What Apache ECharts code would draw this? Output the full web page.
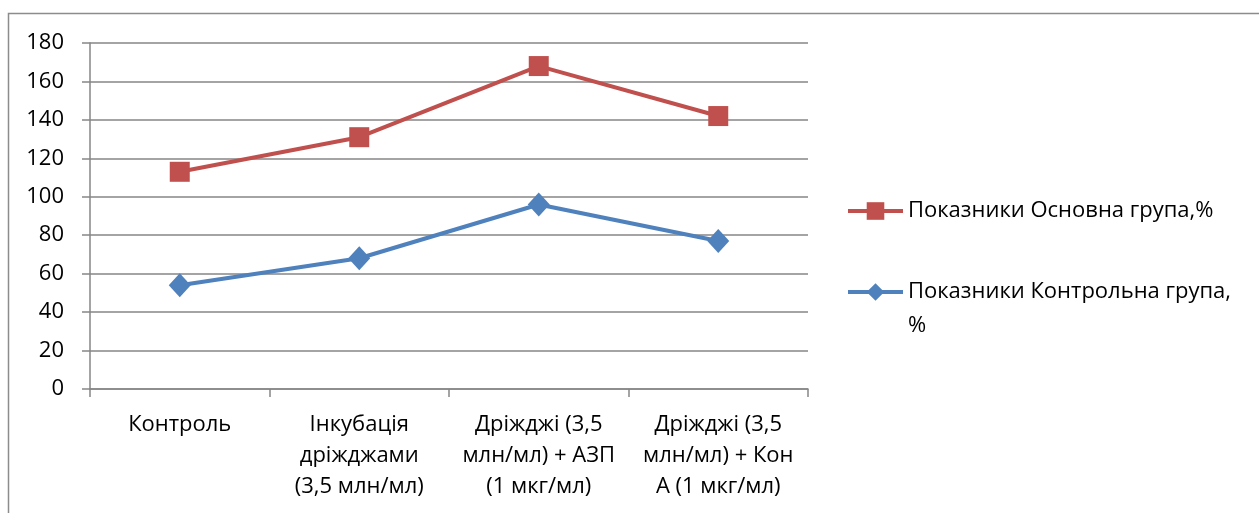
<!DOCTYPE html>
<html>
<head>
<meta charset="utf-8">
<script src="https://cdn.jsdelivr.net/npm/echarts@6/dist/echarts.min.js"></script>
<style>
  html, body { margin: 0; padding: 0; background: #ffffff; }
  #chart { width: 1259px; height: 513px; }
</style>
</head>
<body>
<div id="chart"></div>
<script>
// Categories of the experiment (line breaks as laid out under the axis)
const categories = [
  'Контроль',
  'Інкубація\nдріжджами\n(3,5 млн/мл)',
  'Дріжджі (3,5\nмлн/мл) + АЗП\n(1 мкг/мл)',
  'Дріжджі (3,5\nмлн/мл) + Кон\nА (1 мкг/мл)'
];
const mainGroupName = 'Показники Основна група,%';
const controlGroupName = 'Показники Контрольна група,%';
const mainGroup = [113, 131, 168, 142];
const controlGroup = [54, 68, 96, 77];
const yTicks = { min: 0, max: 180, interval: 20 };

const FONT = 'Open Sans';
const FONT_SIZE = 22;
const TEXT_COLOR = '#000000';
const GRID_COLOR = '#868686';
const RED = '#C0504D';
const BLUE = '#4F81BD';

const chart = echarts.init(document.getElementById('chart'), null, { renderer: 'canvas' });

chart.setOption({
  animation: false,
  backgroundColor: '#ffffff',
  textStyle: { fontFamily: FONT },
  graphic: [{
    type: 'rect',
    shape: { x: 8.5, y: 13.5, width: 1400, height: 700 },
    style: { fill: 'none', stroke: '#8c8c8c', lineWidth: 1.5 },
    silent: true,
    z: -1
  }],
  grid: { left: 90, top: 43, width: 718, height: 346, containLabel: false },
  xAxis: {
    type: 'category',
    data: categories,
    boundaryGap: true,
    axisLine: { show: true, lineStyle: { color: GRID_COLOR, width: 1.5 } },
    axisTick: { show: true, alignWithLabel: false, length: 8, lineStyle: { color: GRID_COLOR, width: 1.5 } },
    axisLabel: {
      interval: 0,
      margin: 20,
      color: TEXT_COLOR,
      fontFamily: FONT,
      fontSize: FONT_SIZE,
      lineHeight: 31,
      align: 'center'
    },
    splitLine: { show: false }
  },
  yAxis: {
    type: 'value',
    min: yTicks.min,
    max: yTicks.max,
    interval: yTicks.interval,
    axisLine: { show: true, lineStyle: { color: GRID_COLOR, width: 1.5 } },
    axisTick: { show: true, length: 8, lineStyle: { color: GRID_COLOR, width: 1.5 } },
    axisLabel: { color: TEXT_COLOR, fontFamily: FONT, fontSize: FONT_SIZE, margin: 26 },
    splitLine: { show: true, lineStyle: { color: GRID_COLOR, width: 1.5 } }
  },
  legend: [{
    data: [mainGroupName],
    orient: 'vertical',
    left: 846,
    top: 194,
    padding: 0,
    itemWidth: 55,
    itemHeight: 22,
    lineStyle: { width: 4 },
    textStyle: { color: TEXT_COLOR, fontFamily: FONT, fontSize: FONT_SIZE, lineHeight: 34 }
  }, {
    data: [controlGroupName],
    orient: 'vertical',
    left: 846,
    top: 241,
    padding: 0,
    itemWidth: 55,
    itemHeight: 22,
    lineStyle: { width: 4 },
    // wrap the long name; a leading blank line keeps the icon beside the first line
    formatter: function (name) { return '\n' + name.replace('група,%', 'група,\n%'); },
    textStyle: { color: TEXT_COLOR, fontFamily: FONT, fontSize: FONT_SIZE, lineHeight: 34 }
  }],
  series: [{
    name: mainGroupName,
    type: 'line',
    data: mainGroup,
    symbol: 'rect',
    symbolSize: 20,
    lineStyle: { color: RED, width: 4 },
    itemStyle: { color: RED },
    z: 3
  }, {
    name: controlGroupName,
    type: 'line',
    data: controlGroup,
    symbol: 'diamond',
    symbolSize: [22, 24],
    lineStyle: { color: BLUE, width: 4 },
    itemStyle: { color: BLUE },
    z: 2
  }]
});
</script>
</body>
</html>
